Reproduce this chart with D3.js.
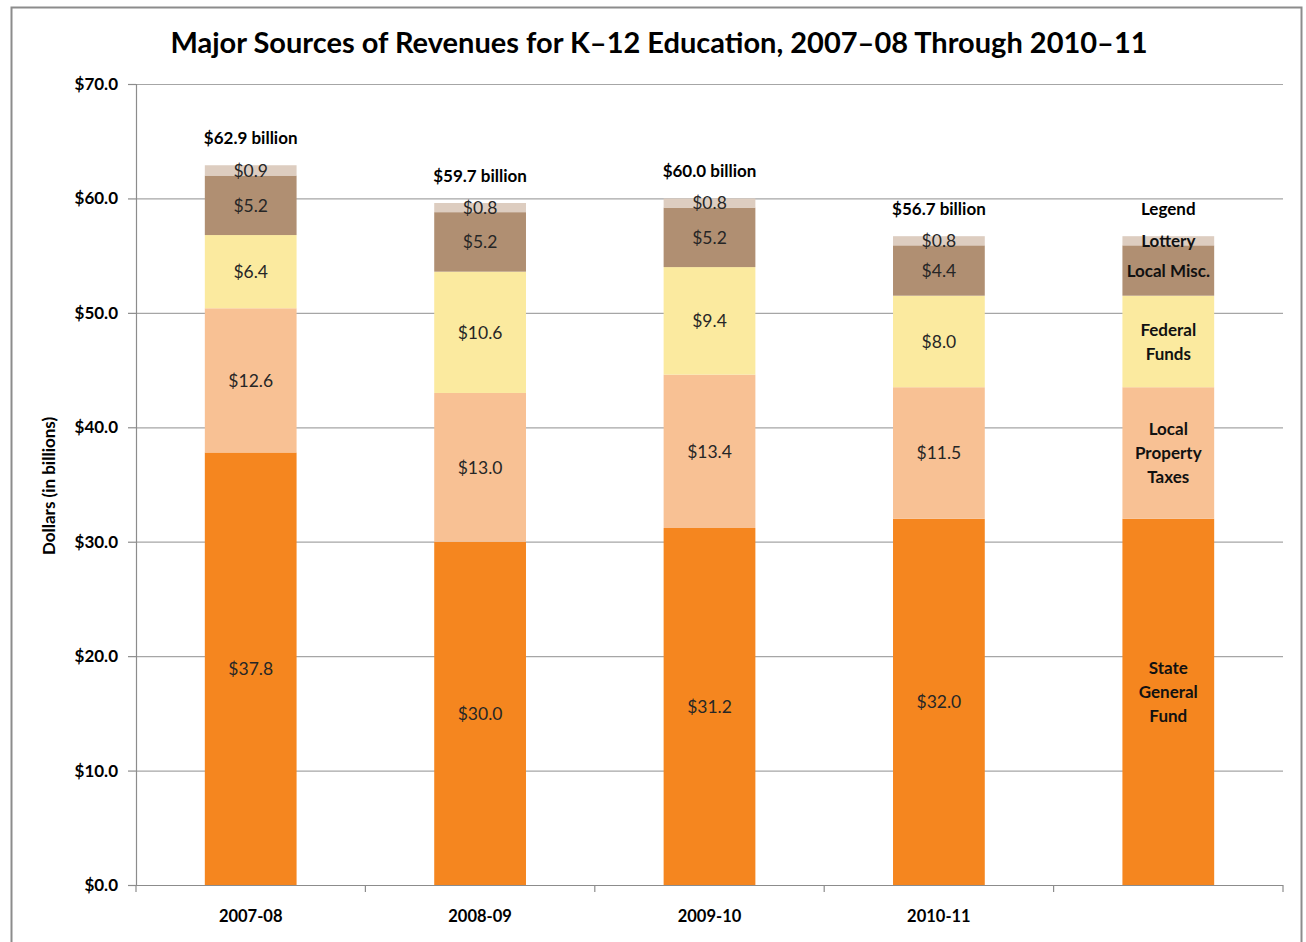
<!DOCTYPE html>
<html>
<head>
<meta charset="utf-8">
<script src="https://cdn.jsdelivr.net/npm/d3@7"></script>
<style>
  body { margin: 0; background: #fff; }
  svg { font-family: Lato, "Open Sans", sans-serif; }
</style>
</head>
<body>
<div id="chart"></div>
<script>
// Data (billions of dollars)
var years = ["2007-08", "2008-09", "2009-10", "2010-11", "Legend"]
var sources = ["State General Fund", "Local Property Taxes", "Federal Funds", "Local Misc.", "Lottery"]
var stateGeneral = [37.8, 30.0, 31.2, 32.0, 32.0]
var propertyTaxes = [12.6, 13.0, 13.4, 11.5, 11.5]
var federalFunds = [6.4, 10.6, 9.4, 8.0, 8.0]
var localMisc = [5.2, 5.2, 5.2, 4.4, 4.4]
var lottery = [0.9, 0.8, 0.8, 0.8, 0.8]
var totals = ["$62.9 billion", "$59.7 billion", "$60.0 billion", "$56.7 billion", "Legend"]
var legendText = [["State", "General", "Fund"], ["Local", "Property", "Taxes"], ["Federal", "Funds"], ["Local Misc."], ["Lottery"]]
var yTicks = [0, 10, 20, 30, 40, 50, 60, 70]
var colors = ["#F5861F", "#F8C194", "#FBEA9F", "#B08F72", "#DDCDC0"]

var width = 1306, height = 942
var margin = {left: 136, right: 23, top: 84, bottom: 57}
var w = width - margin.left - margin.right
var h = height - margin.top - margin.bottom

var rows = years.map(function(y, i) {
  return {year: y, "State General Fund": stateGeneral[i], "Local Property Taxes": propertyTaxes[i],
    "Federal Funds": federalFunds[i], "Local Misc.": localMisc[i], "Lottery": lottery[i], i: i}
})
var stacked = d3.stack().keys(sources)(rows)

var svg = d3.select('#chart').append('svg')
  .attr("width", width)
  .attr("height", height)

// outer border
svg.append("rect")
  .attr("x", 11.5).attr("y", 7.5)
  .attr("width", 1290).attr("height", 950)
  .attr("fill", "none").attr("stroke", "#8c8c8c").attr("stroke-width", 2)

// Title
svg.append("text")
  .attr("x", 659).attr("y", 53)
  .attr("text-anchor", "middle")
  .style("font-size", "29px").style("font-weight", "bold")
  .text("Major Sources of Revenues for K\u201312 Education, 2007\u201308 Through 2010\u201311")

var g = svg.append("g")
  .attr("transform", "translate(" + margin.left + "," + margin.top + ")")

var x = d3.scaleBand()
  .domain(years)
  .range([0, w])
  .paddingInner(0.6)
  .paddingOuter(0.3)

var y = d3.scaleLinear()
  .domain([0, 70])
  .range([h, 0])

// gridlines
g.append("g")
  .selectAll("line")
  .data(yTicks.slice(1))
  .enter().append("line")
  .attr("x1", 0).attr("x2", w)
  .attr("y1", function(d) { return y(d) + 0.5 })
  .attr("y2", function(d) { return y(d) + 0.5 })
  .attr("stroke", "#a6a6a6").attr("stroke-width", 1.2)

// Y axis
var yAxis = g.append('g')
  .call(d3.axisLeft(y).tickValues(yTicks).tickSize(8).tickFormat(function(d) { return "$" + d.toFixed(1) }))
yAxis.selectAll("path, line").attr("stroke", "#8c8c8c").attr("stroke-width", 1.2)
yAxis.selectAll("text")
  .attr("x", -18)
  .style("font-size", "17px").style("font-weight", "bold").style("fill", "#000")
  .style("font-family", "Lato, sans-serif")

// y axis title
svg.append("text")
  .attr("transform", "translate(55,486) rotate(-90)")
  .attr("text-anchor", "middle")
  .style("font-size", "17px").style("font-weight", "bold")
  .text("Dollars (in billions)")

// X axis: ticks at category boundaries
var step = x.step()
var xb = g.append("g").attr("transform", "translate(0," + h + ")")
xb.append("line").attr("x1", 0).attr("x2", w).attr("y1", 0.5).attr("y2", 0.5)
  .attr("stroke", "#8c8c8c").attr("stroke-width", 1.2)
xb.selectAll(".tk")
  .data(d3.range(years.length + 1))
  .enter().append("line")
  .attr("class", "tk")
  .attr("x1", function(d) { return d * step }).attr("x2", function(d) { return d * step })
  .attr("y1", 0).attr("y2", 7)
  .attr("stroke", "#8c8c8c").attr("stroke-width", 1.2)
xb.selectAll(".xl")
  .data(years.slice(0, 4))
  .enter().append("text")
  .attr("class", "xl")
  .attr("x", function(d) { return x(d) + x.bandwidth() / 2 })
  .attr("y", 37)
  .attr("text-anchor", "middle")
  .style("font-size", "16.5px").style("font-weight", "bold")
  .text(function(d) { return d })

// Bars
var layers = g.selectAll(".layer")
  .data(stacked)
  .enter().append("g")
  .attr("class", "layer")
  .attr("fill", function(d, i) { return colors[i] })

layers.selectAll("rect")
  .data(function(d) { return d })
  .enter().append("rect")
  .attr("x", function(d) { return x(d.data.year) })
  .attr("width", x.bandwidth())
  .attr("y", function(d) { return y(d[1]) })
  .attr("height", function(d) { return y(d[0]) - y(d[1]) })

// Segment labels
stacked.forEach(function(layer, k) {
  layer.forEach(function(d, i) {
    var cx = x(d.data.year) + x.bandwidth() / 2
    var cy = (y(d[0]) + y(d[1])) / 2
    if (i < 4) {
      g.append("text")
        .attr("x", cx).attr("y", cy)
        .attr("dy", "0.36em")
        .attr("text-anchor", "middle")
        .style("font-size", "17.5px").style("fill", "#262626")
        .text("$" + d.data[sources[k]].toFixed(1))
    } else {
      var lines = legendText[k]
      var lh = 24
      lines.forEach(function(t, j) {
        g.append("text")
          .attr("x", cx)
          .attr("y", cy + (j - (lines.length - 1) / 2) * lh - (k == 0 ? 10 : 0))
          .attr("dy", "0.36em")
          .attr("text-anchor", "middle")
          .style("font-size", "17px").style("font-weight", "bold").style("fill", "#111")
          .text(t)
      })
    }
  })
})

// Totals above bars
g.selectAll(".total")
  .data(rows)
  .enter().append("text")
  .attr("class", "total")
  .attr("x", function(d) { return x(d.year) + x.bandwidth() / 2 })
  .attr("y", function(d) { return y(stacked[4][d.i][1]) - 21 })
  .attr("text-anchor", "middle")
  .style("font-size", "17px").style("font-weight", "bold")
  .text(function(d, i) { return totals[i] })
</script>
</body>
</html>
